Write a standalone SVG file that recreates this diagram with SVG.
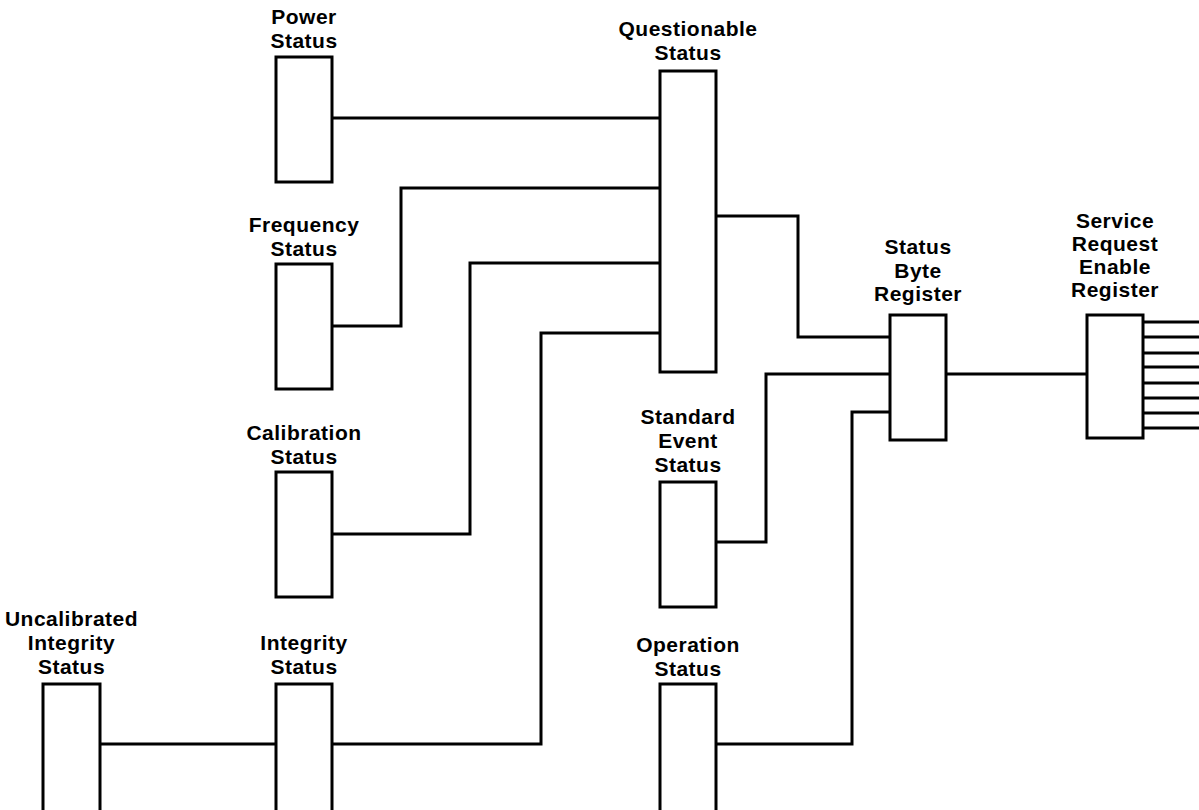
<svg xmlns="http://www.w3.org/2000/svg" width="1199" height="810" viewBox="0 0 1199 810">
<style>
.box{fill:#fff;stroke:#000;stroke-width:3}
.lbl{font-family:"Liberation Sans",Arial,sans-serif;font-weight:bold;font-size:21px;letter-spacing:0.5px;fill:#000;text-anchor:middle}
.wire{fill:none;stroke:#000;stroke-width:3}
</style>
<rect width="1199" height="810" fill="#fff"/>
<g id="connectors">
<polyline class="wire" points="332,118 660,118"/>
<polyline class="wire" points="332,326 401,326 401,188 660,188"/>
<polyline class="wire" points="332,534 470,534 470,263 660,263"/>
<polyline class="wire" points="332,744 541,744 541,333 660,333"/>
<polyline class="wire" points="100,744 276,744"/>
<polyline class="wire" points="716,216 798,216 798,337 890,337"/>
<polyline class="wire" points="716,542 766,542 766,374 890,374"/>
<polyline class="wire" points="716,744 852,744 852,412 890,412"/>
<polyline class="wire" points="946,374 1087,374"/>
<path class="wire" d="M1143,322H1199M1143,337H1199M1143,353H1199M1143,367H1199M1143,383H1199M1143,398H1199M1143,413H1199M1143,428H1199"/>
</g>
<g id="power">
<rect class="box" x="276" y="57" width="56" height="125"/>
<text class="lbl" x="304" y="24">Power</text>
<text class="lbl" x="304" y="48">Status</text>
</g>
<g id="frequency">
<rect class="box" x="276" y="264" width="56" height="125"/>
<text class="lbl" x="304" y="232">Frequency</text>
<text class="lbl" x="304" y="256">Status</text>
</g>
<g id="calibration">
<rect class="box" x="276" y="472" width="56" height="125"/>
<text class="lbl" x="304" y="440">Calibration</text>
<text class="lbl" x="304" y="464">Status</text>
</g>
<g id="integrity">
<rect class="box" x="276" y="684" width="56" height="130"/>
<text class="lbl" x="304" y="650">Integrity</text>
<text class="lbl" x="304" y="674">Status</text>
</g>
<g id="uncalibrated">
<rect class="box" x="43" y="684" width="57" height="130"/>
<text class="lbl" x="71.5" y="626">Uncalibrated</text>
<text class="lbl" x="71.5" y="650">Integrity</text>
<text class="lbl" x="71.5" y="674">Status</text>
</g>
<g id="questionable">
<rect class="box" x="660" y="71" width="56" height="301"/>
<text class="lbl" x="688" y="36">Questionable</text>
<text class="lbl" x="688" y="60">Status</text>
</g>
<g id="standard-event">
<rect class="box" x="660" y="482" width="56" height="125"/>
<text class="lbl" x="688" y="424">Standard</text>
<text class="lbl" x="688" y="448">Event</text>
<text class="lbl" x="688" y="472">Status</text>
</g>
<g id="operation">
<rect class="box" x="660" y="684" width="56" height="130"/>
<text class="lbl" x="688" y="652">Operation</text>
<text class="lbl" x="688" y="676">Status</text>
</g>
<g id="status-byte">
<rect class="box" x="890" y="315" width="56" height="125"/>
<text class="lbl" x="918" y="254">Status</text>
<text class="lbl" x="918" y="278">Byte</text>
<text class="lbl" x="918" y="301">Register</text>
</g>
<g id="sre">
<rect class="box" x="1087" y="315" width="56" height="123"/>
<text class="lbl" x="1115" y="228">Service</text>
<text class="lbl" x="1115" y="251">Request</text>
<text class="lbl" x="1115" y="274">Enable</text>
<text class="lbl" x="1115" y="297">Register</text>
</g>
</svg>
